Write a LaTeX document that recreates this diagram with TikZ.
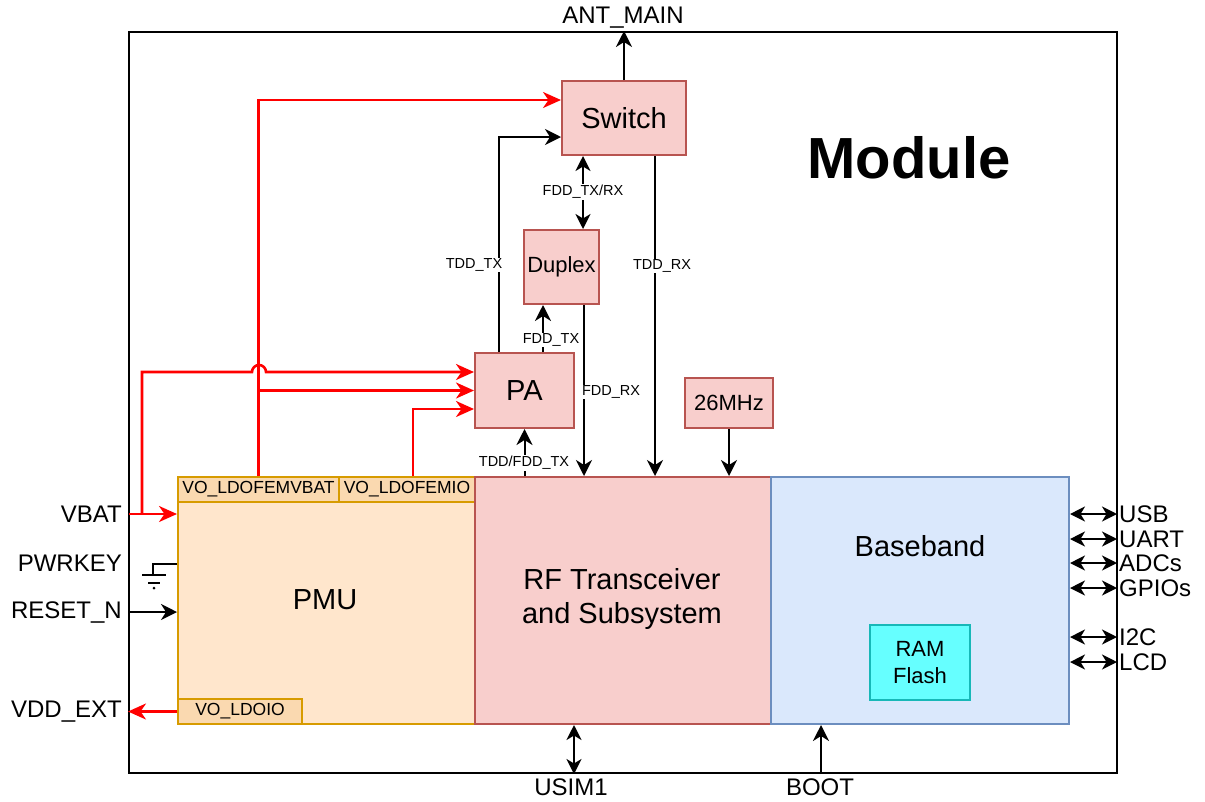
\documentclass[tikz,border=0pt]{standalone}
\usepackage{fontspec}
\setmainfont{Liberation Sans}
\usetikzlibrary{arrows.meta,calc}
\definecolor{pinkf}{HTML}{F8CECC}
\definecolor{pinkd}{HTML}{B85450}
\definecolor{orf}{HTML}{FFE6CC}
\definecolor{ord}{HTML}{D79B00}
\definecolor{orsub}{HTML}{FAD9B0}
\definecolor{bluef}{HTML}{DAE8FC}
\definecolor{blued}{HTML}{6C8EBF}
\definecolor{cyanf}{HTML}{66FFFF}
\definecolor{cyand}{HTML}{17B8B8}
\definecolor{redl}{HTML}{FF0000}
\begin{document}
\begin{tikzpicture}[x=1pt,y=-1pt,
  blk/.style={draw=pinkd,fill=pinkf,line width=2pt,inner sep=0pt,font=\fontsize{29}{34}\selectfont},
  blks/.style={blk,font=\fontsize{22}{27}\selectfont},
  pmubox/.style={draw=ord,fill=orf,line width=2pt,inner sep=0pt},
  ldo/.style={draw=ord,fill=orsub,line width=2pt,inner sep=0pt,font=\fontsize{17.5}{20}\selectfont},
  bbbox/.style={draw=blued,fill=bluef,line width=2pt,inner sep=0pt},
  membox/.style={draw=cyand,fill=cyanf,line width=2pt,inner sep=0pt,align=center,font=\fontsize{22}{27}\selectfont},
  conn/.style={line width=2pt,-{Stealth[length=16pt,width=16pt,inset=5pt]}},
  dbl/.style={line width=2pt,{Stealth[length=15pt,width=15pt,inset=4.5pt]}-{Stealth[length=15pt,width=15pt,inset=4.5pt]}},
  redc/.style={draw=redl,line width=2.6pt,-{Stealth[length=18pt,width=16pt,inset=5.5pt]}},
  sig/.style={fill=white,inner sep=1pt,font=\fontsize{14.5}{17}\selectfont},
  pinl/.style={anchor=east,inner sep=0pt,font=\fontsize{24}{28}\selectfont},
  pinr/.style={anchor=west,inner sep=1pt,font=\fontsize{24}{28}\selectfont},
  big/.style={inner sep=0pt,font=\fontsize{29}{34}\selectfont}
]
\useasboundingbox (0,0) rectangle (1205,801);

% outer module
\node[draw,line width=2pt,minimum width=988pt,minimum height=741pt,inner sep=0pt] (module) at (623,402.5) {};
\node[inner sep=0pt,font=\fontsize{58}{64}\selectfont\bfseries] (modlbl) at (909,158) {Module};

% blocks
\node[blk,minimum width=124pt,minimum height=74pt] (switch) at (624,118) {Switch};
\node[blks,minimum width=75pt,minimum height=74pt] (duplex) at (561.5,267) {Duplex};
\node[blk,minimum width=99pt,minimum height=75pt] (pa) at (524.5,390.5) {PA};
\node[blks,minimum width=88pt,minimum height=50pt] (osc) at (729,403) {26MHz};

\node[pmubox,minimum width=297pt,minimum height=247pt] (pmu) at (326.5,600.5) {};
\node[big] (pmulbl) at (325,600) {PMU};
\node[ldo,minimum width=161pt,minimum height=25pt] (vbatldo) at (258.5,489.5) {VO\_LDOFEMVBAT};
\node[ldo,minimum width=136pt,minimum height=25pt] (ioldo) at (407,489.5) {VO\_LDOFEMIO};
\node[ldo,minimum width=124pt,minimum height=25pt] (ldoio) at (240,711.5) {VO\_LDOIO};

\node[blk,minimum width=296pt,minimum height=247pt] (rf) at (623,600.5) {};
\node[big,align=center,font=\fontsize{29}{34}\selectfont] (rflbl) at (622,599) {RF Transceiver\\and Subsystem};

\node[bbbox,minimum width=298pt,minimum height=247pt] (bb) at (920,600.5) {};
\node[big] (bblbl) at (920,546) {Baseband};
\node[membox,minimum width=100pt,minimum height=75pt] (mem) at (920,662.5) {RAM\\Flash};

% ANT_MAIN
\node[inner sep=0pt,font=\fontsize{24}{28}\selectfont] (ant) at (623,18) {ANT\_MAIN};
\draw[conn] (switch.north) -- (switch.north |- module.north);

% RF paths
\draw[conn] ([xshift=25pt]pa.north west) |- ([yshift=-19pt]switch.west);
\draw[dbl] ([xshift=-41pt]switch.south) -- ([xshift=-41pt]switch.south |- duplex.north);
\draw[conn] ([xshift=22.5pt]duplex.south) -- ([xshift=22.5pt]duplex.south |- rf.north);
\draw[conn] ([xshift=18.5pt]pa.north) -- ([xshift=18.5pt]pa.north |- duplex.south);
\draw[conn] (pa.south |- rf.north) -- (pa.south);
\draw[conn] ([xshift=31pt]switch.south) -- ([xshift=31pt]switch.south |- rf.north);
\draw[conn] (osc.south) -- (osc.south |- rf.north);

\node[sig] (ltddtx) at (474,265) {TDD\_TX};
\node[sig] (lfddtxrx) at (583,192) {FDD\_TX/RX};
\node[sig] (ltddrx) at (662,266) {TDD\_RX};
\node[sig] (lfddrx) at (611,392) {FDD\_RX};
\node[sig] (lfddtx) at (551,340) {FDD\_TX};
\node[sig] (ltddfdd) at (524,463) {TDD/FDD\_TX};

% red power lines
\coordinate (vbatin) at (129,514);
\coordinate (vbr) at (142,514);
\draw[redc] (vbatin) -- (vbatin -| pmu.west);
\draw[redc] (vbr) -- (142,372) -- (252,372) arc[start angle=180,end angle=0,radius=7pt] -- ([yshift=18.5pt]pa.west);
\draw[redc] (vbatldo.north) |- ([yshift=18pt]switch.west);
\draw[redc] (vbatldo.north |- pa.west) -- (pa.west);
\draw[redc] ([xshift=6pt]ioldo.north) |- ([yshift=-18.5pt]pa.west);
\draw[redc] (ldoio.west) -- (ldoio.west -| module.west);

% left pins
\node[pinl] (lvbat) at (122,514) {VBAT};
\node[pinl] (lpwr) at (122,563) {PWRKEY};
\node[pinl] (lrst) at (122,612) {RESET\_N};
\node[pinl] (lvdd) at (122,712) {VDD\_EXT};
\coordinate (gnd) at (153,575);
\draw[line width=2pt] (pmu.west |- 0,564) -- (gnd |- 0,564) -- (gnd);
\draw[line width=2pt] (142,575) -- (166,575);
\draw[line width=2pt] (148,583) -- (160,583);
\fill (154,588) circle (1.5pt);
\draw[conn] (module.west |- lrst) -- (pmu.west |- lrst);

% right pins
\foreach \n/\y in {USB/514,UART/539,ADCs/563,GPIOs/588,I2C/637,LCD/662}{
  \coordinate (p\n) at (1117,\y);
  \draw[dbl] (bb.east |- p\n) -- (p\n);
  \node[pinr] (l\n) at (1118,\y) {\n};
}

% bottom pins
\draw[dbl] ([xshift=-49pt]rf.south) -- ([xshift=-49pt]rf.south |- module.south);
\node[inner sep=0pt,font=\fontsize{24}{28}\selectfont] (lusim) at (571,787) {USIM1};
\draw[conn] ([xshift=-99pt]bb.south |- module.south) -- ([xshift=-99pt]bb.south);
\node[inner sep=0pt,font=\fontsize{24}{28}\selectfont] (lboot) at (820,787) {BOOT};
\end{tikzpicture}
\end{document}
